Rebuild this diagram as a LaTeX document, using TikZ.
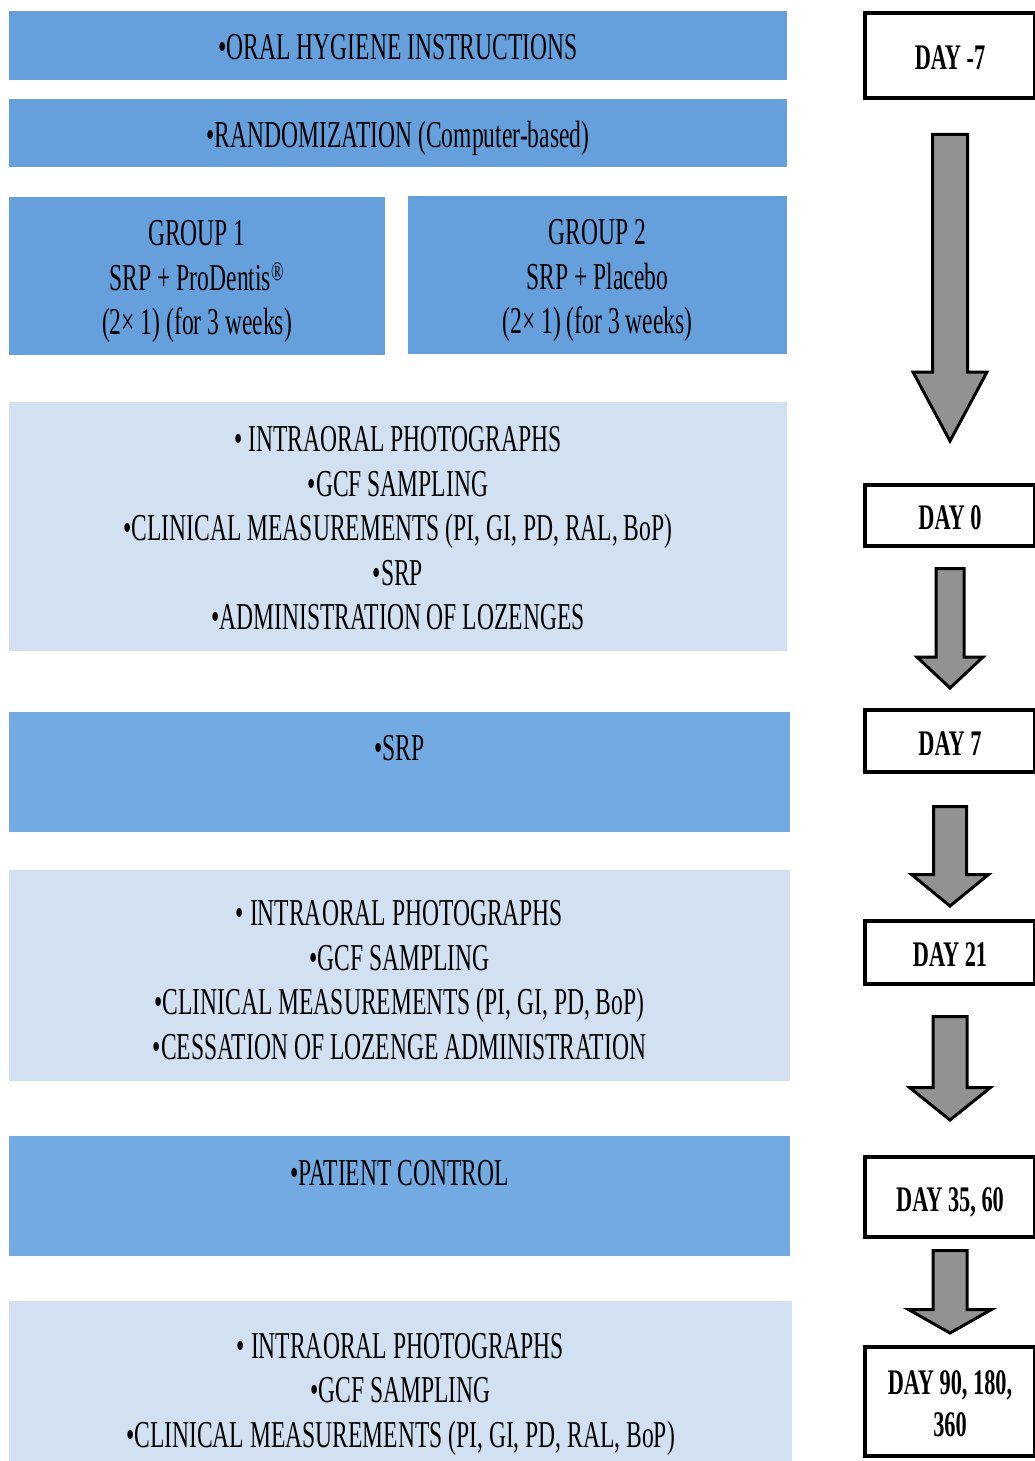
\documentclass[tikz,border=0pt]{standalone}
\usepackage{fontspec}
\setmainfont[FakeStretch=0.62]{Liberation Serif}
\usepackage{tikz}
\usetikzlibrary{calc}

\definecolor{stepblue}{RGB}{101,160,220}
\definecolor{visitblue}{RGB}{114,170,225}
\definecolor{paleblue}{RGB}{210,225,242}
\definecolor{arrowgray}{RGB}{146,146,146}

\newcommand{\hdstrut}[1][28pt]{\rule{0pt}{#1}}

\tikzset{
  stage/.style={fill=stepblue,align=center,inner sep=0pt,text depth=0pt,font=\fontsize{38}{44.5}\selectfont},
  visit/.style={stage,fill=paleblue},
  daybox/.style={draw,line width=4pt,fill=white,align=center,inner sep=0pt,text depth=0pt,minimum width=170pt,font=\bfseries\fontsize{36}{42}\selectfont},
  blockarrow/.style={draw,line width=3pt,fill=arrowgray}
}

% top node, bottom node, top gap, bottom gap, shaft half width, head half width, head length
\newcommand{\bigarrow}[7]{%
  \draw[blockarrow] let \p1=(#1.south), \p2=(#2.north) in
    (\x1-#5pt,\y1-#3pt) -- (\x1+#5pt,\y1-#3pt) -- (\x1+#5pt,\y2+#4pt+#7pt)
    -- (\x1+#6pt,\y2+#4pt+#7pt) -- (\x1,\y2+#4pt) -- (\x1-#6pt,\y2+#4pt+#7pt)
    -- (\x1-#5pt,\y2+#4pt+#7pt) -- cycle;}

\begin{document}
\begin{tikzpicture}[x=1pt,y=-1pt]
\useasboundingbox (0,0) rectangle (1035,1461);
\clip (0,0) rectangle (1035,1461);

\node[stage,minimum width=778pt,minimum height=69pt] (hyg) at (398,45.5) {\hdstrut•ORAL HYGIENE INSTRUCTIONS};
\node[stage,minimum width=778pt,minimum height=68pt] (rand) at (398,133) {\hdstrut•RANDOMIZATION (Computer-based)};
\node[stage,minimum width=376pt,minimum height=158pt] (grp1) at (197,276) {\hdstrut GROUP 1\\SRP + ProDentis\textsuperscript{®}\\(2× 1) (for 3 weeks)};
\node[stage,minimum width=379pt,minimum height=158pt] (grp2) at (597.5,275) {\hdstrut GROUP 2\\SRP + Placebo\\(2× 1) (for 3 weeks)};
\node[visit,minimum width=778pt,minimum height=249pt] (base) at (398,526.5) {\hdstrut• INTRAORAL PHOTOGRAPHS\\•GCF SAMPLING\\•CLINICAL MEASUREMENTS (PI, GI, PD, RAL, BoP)\\•SRP\\•ADMINISTRATION OF LOZENGES};
\node[stage,fill=visitblue,text depth=7pt,minimum width=781pt,minimum height=120pt] (srp) at (399.5,772) {\hdstrut•SRP\\\mbox{}};
\node[visit,minimum width=781pt,minimum height=211pt] (wk3) at (399.5,975.5) {\hdstrut[34pt]• INTRAORAL PHOTOGRAPHS\\•GCF SAMPLING\\•CLINICAL MEASUREMENTS (PI, GI, PD, BoP)\\•CESSATION OF LOZENGE ADMINISTRATION};
\node[stage,fill=visitblue,text depth=5pt,minimum width=781pt,minimum height=120pt] (ctrl) at (399.5,1196) {\hdstrut•PATIENT CONTROL\\\mbox{}};
\node[visit,text depth=3pt,minimum width=783pt,minimum height=178pt] (follow) at (400.5,1390) {\hdstrut• INTRAORAL PHOTOGRAPHS\\•GCF SAMPLING\\•CLINICAL MEASUREMENTS (PI, GI, PD, RAL, BoP)};

\node[daybox,minimum height=85pt] (dm7) at (950,55.5) {\hdstrut DAY -7};
\node[daybox,minimum height=61pt] (d0) at (950,515.5) {\hdstrut DAY 0};
\node[daybox,minimum height=62pt] (d7) at (950,741) {\hdstrut DAY 7};
\node[daybox,minimum height=63pt] (d21) at (950,952.5) {\hdstrut DAY 21};
\node[daybox,minimum height=80pt] (d35) at (950,1197) {\hdstrut DAY 35, 60};
\node[daybox,minimum height=109pt] (d90) at (950,1401.5) {\hdstrut DAY 90, 180,\\360};

\bigarrow{dm7}{d0}{34.5}{42}{17.5}{37}{69}
\bigarrow{d0}{d7}{20.5}{20}{14}{33}{31}
\bigarrow{d7}{d21}{32.5}{13}{16.5}{38.5}{31.5}
\bigarrow{d21}{d35}{30.5}{35}{17}{40.5}{32.5}
\bigarrow{d35}{d90}{11.5}{12}{17}{41.5}{23.5}
\end{tikzpicture}
\end{document}
